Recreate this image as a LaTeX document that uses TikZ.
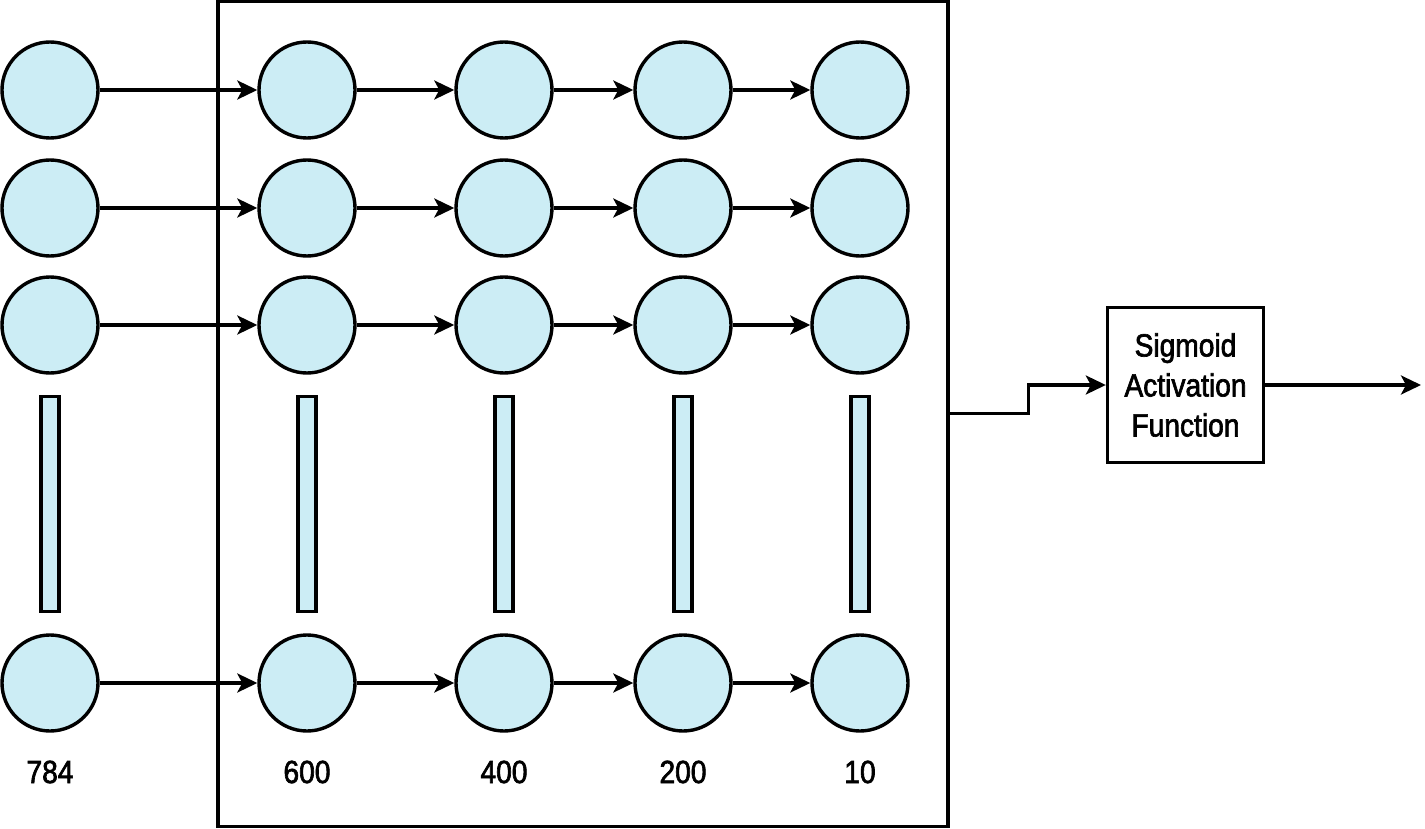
\documentclass[tikz,border=0pt]{standalone}
\usepackage{fontspec}
\setmainfont{Liberation Sans}[FakeStretch=0.88,FakeBold=2]
\usetikzlibrary{arrows.meta}
\definecolor{cellfill}{RGB}{204,237,245}
\begin{document}
\begin{tikzpicture}[x=0.5pt,y=-0.5pt,
  neuron/.style={circle,draw,line width=1.7pt,fill=cellfill,minimum size=48pt,inner sep=0pt},
  bar/.style={rectangle,draw,line width=1.6pt,fill=cellfill,minimum width=9pt,minimum height=107.5pt,inner sep=0pt},
  link/.style={line width=1.6pt,-{Stealth[length=10pt,width=9.5pt,inset=2.5pt]}},
  count/.style={font=\fontsize{16}{19}\selectfont,inner sep=0pt},
  frame/.style={rectangle,draw,line width=1.7pt,inner sep=0pt},
  block/.style={rectangle,draw,line width=1.7pt,inner sep=0pt,align=center,font=\fontsize{16}{20}\selectfont}
]
\useasboundingbox (0,0) rectangle (1425,829);

% hidden layers enclosed by a frame
\node[frame,minimum width=365pt,minimum height=412.5pt] (box) at (583,413.75) {};

% columns of neurons, a bar standing for the elided units, and the layer size
\foreach \c/\x/\n in {0/50/784,1/307/600,2/504/400,3/683/200,4/860/10}{
  \foreach \r/\y in {1/90,2/208,3/325,4/683}{
    \node[neuron] (n\c\r) at (\x,\y) {};
  }
  \node[bar] (b\c) at (\x,504) {};
  \node[count] (l\c) at (\x,772) {\n};
}

% forward connections along each row
\foreach \p/\c in {0/1,1/2,2/3,3/4}{
  \foreach \r in {1,2,3,4}{
    \draw[link] (n\p\r) -- (n\c\r);
  }
}

% output stage
\node[block,minimum width=78pt,minimum height=77.5pt] (sig) at (1185.5,385) {Sigmoid\\Activation\\Function};
\coordinate (out) at (1421,385);
\draw[link] (box.east) -- ++(79,0) |- (sig.west);
\draw[link] (sig.east) -- (out);
\end{tikzpicture}
\end{document}
